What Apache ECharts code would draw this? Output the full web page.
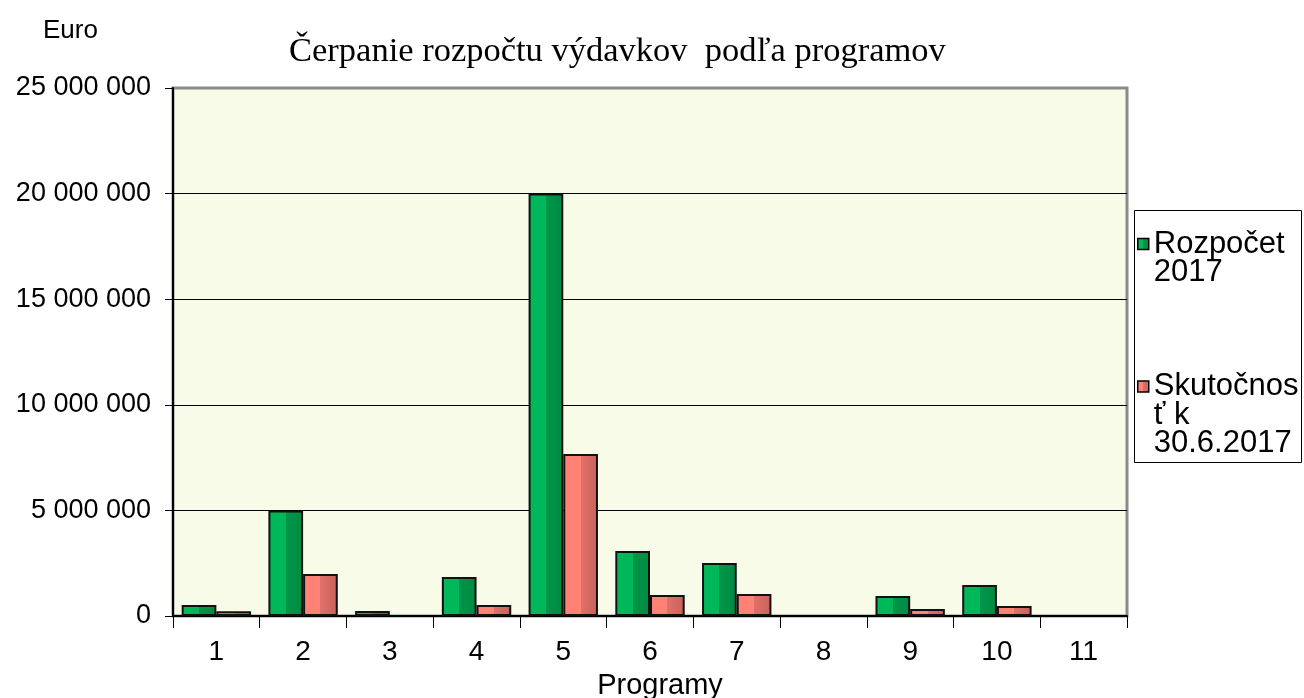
<!DOCTYPE html>
<html>
<head>
<meta charset="utf-8">
<script src="https://cdn.jsdelivr.net/npm/echarts@6/dist/echarts.min.js"></script>
<style>
html,body{margin:0;padding:0;background:#fff;}
#c{width:1304px;height:698px;}
</style>
</head>
<body>
<div id="c"></div>
<script>
const categories = ['1','2','3','4','5','6','7','8','9','10','11'];
const budget2017 = [520000, 5000000, 240000, 1850000, 20000000, 3080000, 2510000, null, 950000, 1470000, null];
const actual2017 = [230000, 1990000, null, 520000, 7670000, 990000, 1040000, null, 330000, 470000, null];
const yTicks = [0, 5000000, 10000000, 15000000, 20000000, 25000000];
const seriesNames = ['Rozpočet 2017', 'Skutočnosť k 30.6.2017'];
const legendLabels = ['\nRozpočet\n2017', '\n\nSkutočnos\nť k\n30.6.2017'];
const titleText = 'Čerpanie rozpočtu výdavkov  podľa programov';
const unitText = 'Euro';
const axisName = 'Programy';

const fmt = v => String(v).replace(/\B(?=(\d{3})+(?!\d))/g, ' ');

const greenFill = {type:'linear',x:0,y:0,x2:1,y2:0,colorStops:[
  {offset:0,color:'#00b85a'},{offset:0.5,color:'#00b85a'},
  {offset:0.5,color:'#00964a'},{offset:1,color:'#008a42'}]};
const redFill = {type:'linear',x:0,y:0,x2:1,y2:0,colorStops:[
  {offset:0,color:'#ff8274'},{offset:0.5,color:'#ff8274'},
  {offset:0.5,color:'#e0706a'},{offset:1,color:'#c8625a'}]};

const chart = echarts.init(document.getElementById('c'), null, {renderer:'canvas'});
chart.setOption({
  animation:false,
  backgroundColor:'#ffffff',
  title:[
    {text:titleText,left:284,top:29,textStyle:{fontFamily:'Liberation Serif',fontWeight:'normal',fontSize:34.5,color:'#000'}},
    {text:unitText,left:38,top:13,textStyle:{fontFamily:'Liberation Sans',fontWeight:'normal',fontSize:26,color:'#000'}}
  ],
  legend:{
    orient:'vertical',
    left:1137,
    top:200,
    padding:0,
    itemGap:26,
    itemWidth:11,
    itemHeight:11,
    icon:'rect',
    selectedMode:false,
    data:seriesNames,
    formatter:name => legendLabels[seriesNames.indexOf(name)],
    textStyle:{fontFamily:'Liberation Sans',fontSize:31,lineHeight:28.5,color:'#000'},
    itemStyle:{borderColor:'#000',borderWidth:1.5}
  },
  graphic:[{type:'rect',shape:{x:1134.5,y:210.5,width:167,height:252},style:{fill:'none',stroke:'#000',lineWidth:1},silent:true}],
  grid:{left:173,right:177,top:88,bottom:82,outerBoundsMode:'none',containLabel:false,show:true,backgroundColor:'#f7fbe7',borderColor:'#8a8a8a',borderWidth:3},
  xAxis:{
    type:'category',
    data:categories,
    name:axisName,
    nameLocation:'middle',
    nameGap:55,
    nameTextStyle:{fontFamily:'Liberation Sans',fontSize:29,color:'#000',padding:[0,0,0,20]},
    axisLine:{lineStyle:{color:'#000',width:2}},
    axisTick:{show:true,length:12,lineStyle:{color:'#000',width:1}},
    axisLabel:{margin:22,fontFamily:'Liberation Sans',fontSize:28,color:'#000'}
  },
  yAxis:{
    type:'value',
    min:yTicks[0],
    max:yTicks[yTicks.length-1],
    interval:yTicks[1]-yTicks[0],
    axisLine:{show:true,lineStyle:{color:'#000',width:2}},
    axisTick:{show:true,length:8,lineStyle:{color:'#000',width:1}},
    axisLabel:{margin:22,fontFamily:'Liberation Sans',fontSize:27,color:'#000',formatter:v=>fmt(v)},
    splitLine:{show:true,lineStyle:{color:['#000','#000','#000','#000','#000','#8a8a8a'],width:1}}
  },
  series:[
    {name:seriesNames[0],type:'bar',data:budget2017,barGap:'0%',barCategoryGap:'20%',
     itemStyle:{color:greenFill,borderColor:'#111',borderWidth:2}},
    {name:seriesNames[1],type:'bar',data:actual2017,barGap:'0%',barCategoryGap:'20%',
     itemStyle:{color:redFill,borderColor:'#111',borderWidth:2}}
  ]
});
</script>
</body>
</html>
